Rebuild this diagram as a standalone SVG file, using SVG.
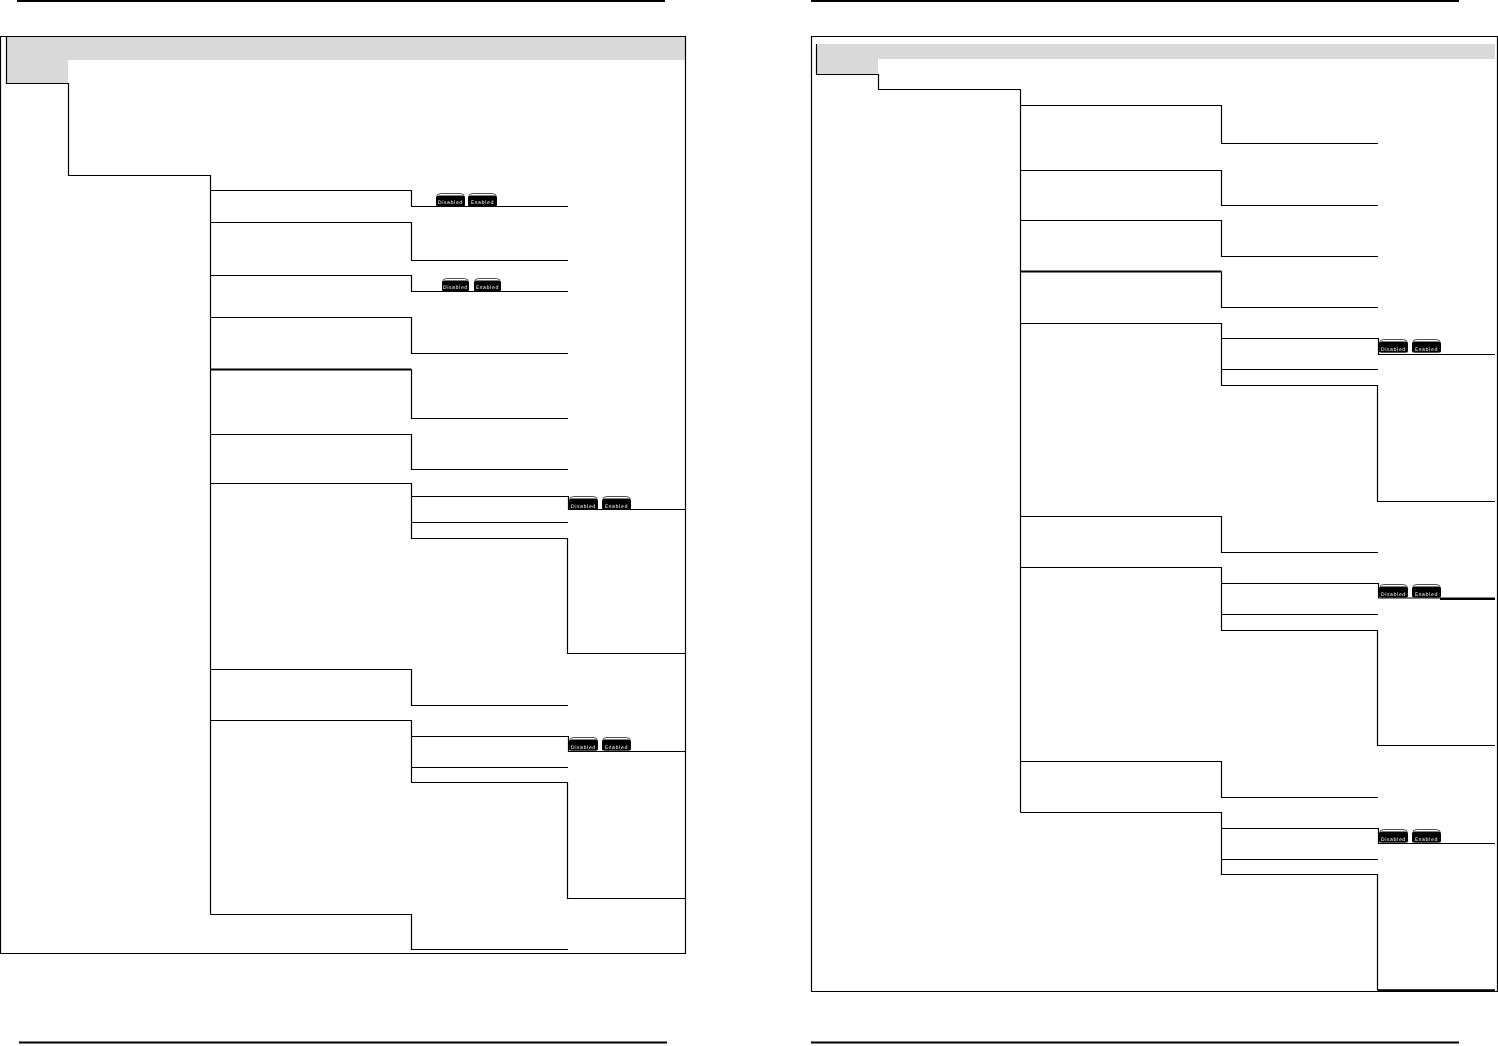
<svg xmlns="http://www.w3.org/2000/svg" width="1498" height="1046" viewBox="0 0 1498 1046">
<style>
.l{fill:none;stroke:#000;stroke-width:1.2}
.h{fill:none;stroke:#000;stroke-width:2}
.g{fill:#d9d9d9}
.t{fill:#fff;font-family:"DejaVu Sans",sans-serif;font-size:4.800px;letter-spacing:.5px;text-anchor:middle;filter:url(#soft)}
.o{fill:#fff;stroke:#222;stroke-width:.8}
</style>
<defs>
<filter id="soft" x="-10%" y="-30%" width="120%" height="160%"><feGaussianBlur stdDeviation=".25"/></filter>
<g id="btn">
<path class="o" d="M.5 13V4.500Q.5 .5 4.500 .5H24.500Q28.500 .5 28.500 4.500V13Z"/>
<rect x="0" y="2.500" width="29" height="11" rx="3" fill="#000"/>
</g>
<g id="btn-narrow">
<path class="o" d="M.5 13V4.500Q.5 .5 4.500 .5H22.500Q26.500 .5 26.500 4.500V13Z"/>
<rect x="0" y="2.500" width="27" height="11" rx="3" fill="#000"/>
</g>
</defs>
<rect width="1498" height="1046" fill="#fff"/>
<g id="headers">
<path class="h" d="M17 1H665M811 1H1459M19 1042.500H667M811 1042.500H1459"/>
</g>
<g id="panel-left">
<path class="g" d="M7 37H685V60H68V83H7Z"/>
<path class="l" d="M.5 36.500H685.500V953.500H.5Z"/>
</g>
<g id="panel-right">
<path class="g" d="M817 44H1495V59H878V74H817Z"/>
<path class="l" d="M811.500 36.500H1497.500V991.500H811.500Z"/>
</g>
<g id="connectors">
<path class="l" d="M6.500 37V83.500H68.500V175.500H210.500V914.500"/>
<path class="l" d="M210.500 190.500H411.500V206.500H568"/>
<path class="l" d="M210.500 222.500H411.500V260.500H568"/>
<path class="l" d="M210.500 275.500H411.500V291.500H568"/>
<path class="l" d="M210.500 317.500H411.500V353.500H568"/>
<path class="h" d="M210.500 369.500H411.500"/>
<path class="l" d="M411.500 369.500V418.500H568"/>
<path class="l" d="M210.500 434.500H411.500V469.500H568"/>
<path class="l" d="M210.500 483.500H411.500V538.500H567.500V653.500H685"/>
<path class="l" d="M411.500 496.500H568.500V509.500H685M411.500 522.500H568"/>
<path class="l" d="M210.500 669.500H411.500V705.500H568"/>
<path class="l" d="M210.500 720.500H411.500V782.500H567.500V898.500H685"/>
<path class="l" d="M411.500 736.500H568.500V751.500H685M411.500 767.500H568"/>
<path class="l" d="M210.500 914.500H411.500V949.500H568"/>
<path class="l" d="M816.500 44V74.500H878.500V89.500H1020.500V812.500"/>
<path class="l" d="M1020.500 105.500H1221.500V143.500H1378"/>
<path class="l" d="M1020.500 170.500H1221.500V205.500H1378"/>
<path class="l" d="M1020.500 220.500H1221.500V256.500H1378"/>
<path class="h" d="M1020.500 271.500H1221.500"/>
<path class="l" d="M1221.500 271.500V307.500H1378"/>
<path class="l" d="M1020.500 323.500H1221.500V385.500H1377.500V501.500H1495"/>
<path class="l" d="M1221.500 338.500H1378.500V354.500H1495M1221.500 369.500H1378"/>
<path class="l" d="M1020.500 516.500H1221.500V552.500H1378"/>
<path class="l" d="M1020.500 567.500H1221.500V630.500H1377.500V745.500H1495"/>
<path class="l" d="M1221.500 583.500H1378.500V598H1495M1221.500 614.500H1378"/>
<path class="h" d="M1440 599H1495"/>
<path class="l" d="M1020.500 761.500H1221.500V797.500H1378"/>
<path class="l" d="M1020.500 812.500H1221.500V874.500H1377.500V990H1495"/>
<path class="h" d="M1378 990.500H1495"/>
<path class="l" d="M1221.500 828.500H1378.500V843.500H1495M1221.500 859.500H1378"/>
</g>
<g id="toggle-1">
<use href="#btn" x="436" y="193"/><text class="t" x="450.500" y="203.500">Disabled</text>
<use href="#btn" x="468" y="193"/><text class="t" x="482.500" y="203.500">Enabled</text>
</g>
<g id="toggle-2">
<use href="#btn-narrow" x="442" y="278"/><text class="t" x="455.500" y="288.500">Disabled</text>
<use href="#btn-narrow" x="474" y="278"/><text class="t" x="487.500" y="288.500">Enabled</text>
</g>
<g id="toggle-3">
<use href="#btn" x="569" y="496"/><text class="t" x="583.500" y="507.500">Disabled</text>
<use href="#btn" x="602" y="496"/><text class="t" x="616.500" y="507.500">Enabled</text>
</g>
<g id="toggle-4">
<use href="#btn" x="569" y="737"/><text class="t" x="583.500" y="748.500">Disabled</text>
<use href="#btn" x="602" y="737"/><text class="t" x="616.500" y="748.500">Enabled</text>
</g>
<g id="toggle-5">
<use href="#btn" x="1379" y="339"/><text class="t" x="1393.500" y="350.500">Disabled</text>
<use href="#btn" x="1412" y="339"/><text class="t" x="1426.500" y="350.500">Enabled</text>
</g>
<g id="toggle-6">
<use href="#btn" x="1379" y="584"/><text class="t" x="1393.500" y="595.500">Disabled</text>
<use href="#btn" x="1412" y="584"/><text class="t" x="1426.500" y="595.500">Enabled</text>
</g>
<g id="toggle-7">
<use href="#btn" x="1379" y="829"/><text class="t" x="1393.500" y="840.500">Disabled</text>
<use href="#btn" x="1412" y="829"/><text class="t" x="1426.500" y="840.500">Enabled</text>
</g>
</svg>
